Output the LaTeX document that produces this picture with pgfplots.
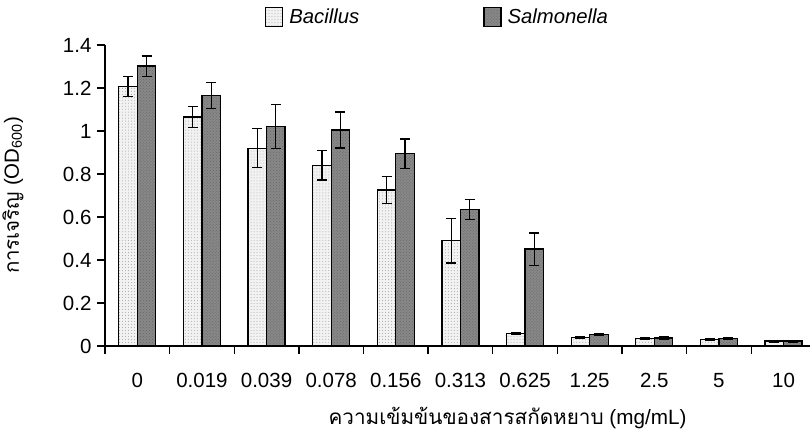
\documentclass[border=0pt]{standalone}
\usepackage{fontspec}
\setmainfont{Liberation Sans}
\newfontfamily\thaifont[Script=Thai]{Loma}
\usepackage{pgfplots}
\usepackage{pgfplotstable}
\pgfplotsset{compat=1.18}
\usetikzlibrary{patterns}
\pgfplotstableread{
cat bac bace sal sale
0 1.207 0.046 1.302 0.047
1 1.065 0.050 1.165 0.060
2 0.920 0.090 1.020 0.102
3 0.840 0.068 1.005 0.084
4 0.725 0.063 0.895 0.068
5 0.490 0.104 0.635 0.047
6 0.059 0.004 0.451 0.075
7 0.040 0.004 0.052 0.004
8 0.035 0.005 0.037 0.008
9 0.030 0.003 0.036 0.005
10 0.023 0.004 0.023 0.004
}\datatab
\definecolor{bacfill}{HTML}{F2F2F2}
\definecolor{salfill}{HTML}{888888}
\begin{document}
\begin{tikzpicture}
\begin{axis}[
  scale only axis,
  width=705bp, height=301bp,
  xmin=-0.5, xmax=10.41,
  ymin=0, ymax=1.4,
  axis lines=left,
  axis line style={-, line width=1.4bp},
  ybar=0pt,
  bar width=18.5bp,
  xtick={-0.5,0.5,...,10.5},
  xticklabels={},
  extra x ticks={0,1,...,10},
  extra x tick labels={0,0.019,0.039,0.078,0.156,0.313,0.625,1.25,2.5,5,10},
  extra x tick style={major tick length=0pt},
  ytick={0,0.2,...,1.4},
  yticklabels={0,0.2,0.4,0.6,0.8,1,1.2,1.4},
  tick align=outside,
  major tick length=8bp,
  tick style={black, line width=1.3bp},
  tick label style={font=\fontsize{20.5bp}{24bp}\selectfont},
  /pgf/number format/assume math mode=true,
  yticklabel style={xshift=-2bp},
  xticklabel style={yshift=-24bp},
  xlabel={{\thaifont ความเข้มข้นของสารสกัดหยาบ} (mg/mL)},
  xlabel style={font=\fontsize{20.7bp}{24bp}\selectfont, at={(axis description cs:0.571,0)}, anchor=north, yshift=-58bp},
  ylabel={{\thaifont การเจริญ} (OD\textsubscript{600})},
  ylabel style={font=\fontsize{20.5bp}{24bp}\selectfont, at={(axis description cs:0,0.5)}, anchor=south, yshift=78bp},
  legend columns=2,
  legend style={draw=none, fill=none, at={(0.4716,1.093)}, anchor=center,
    font=\fontsize{20.3bp}{24bp}\selectfont\itshape,
    /tikz/every odd column/.append style={column sep=4bp},
    /tikz/every even column/.append style={column sep=122bp}},
  legend image code/.code={\draw[#1, line width=1.3bp] (0bp,-9bp) rectangle (17bp,10bp);},
  error bars/error bar style={line width=1.3bp, black},
  error bars/error mark options={rotate=90, mark size=5bp, line width=1.3bp, black},
]
\addplot[draw=black, line width=1.3bp, fill=bacfill,
  postaction={pattern=dots, pattern color=black!35},
  error bars/.cd, y dir=both, y explicit]
  table[x=cat, y=bac, y error=bace]{\datatab};
\addlegendentry{Bacillus}
\addplot[draw=black, line width=1.3bp, fill=salfill,
  postaction={pattern=crosshatch dots, pattern color=black!60},
  error bars/.cd, y dir=both, y explicit]
  table[x=cat, y=sal, y error=sale]{\datatab};
\addlegendentry{Salmonella}
\end{axis}
\pgfresetboundingbox
\path[use as bounding box] (-105bp,-89bp) rectangle (705bp,346bp);
\end{tikzpicture}
\end{document}
